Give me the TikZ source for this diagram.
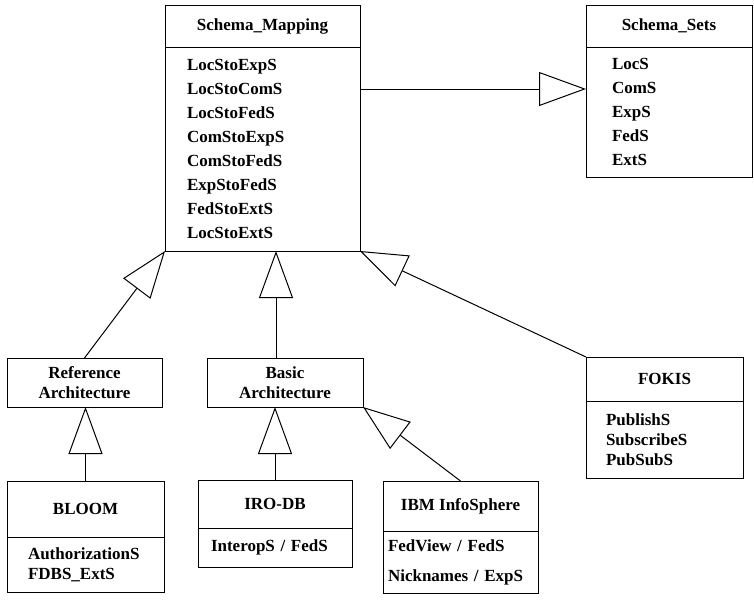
\documentclass[tikz,border=0pt]{standalone}
\usepackage{fontspec}
\setmainfont{Liberation Serif}
\usetikzlibrary{arrows.meta,positioning}
\begin{document}
\begin{tikzpicture}[x=1pt,y=-1pt,line width=1pt,
  every node/.style={font=\fontsize{17}{24}\selectfont\bfseries,outer sep=0pt},
  hd/.style={draw,anchor=north west,inner sep=0pt,align=center},
  bd/.style={draw,below=0pt of #1,align=left},
  gen/.style={-{Triangle[open,length=47pt,width=34pt]}}]
\useasboundingbox (0,0) rectangle (754,603);
% classes
\node[hd,minimum width=195pt,minimum height=42pt] (sm) at (165,5) {Schema\_Mapping};
\node[bd=sm,minimum height=204pt,text width=151pt,inner xsep=22pt] (smb) {LocStoExpS\\LocStoComS\\LocStoFedS\\ComStoExpS\\ComStoFedS\\ExpStoFedS\\FedStoExtS\\LocStoExtS};
\node[hd,minimum width=166pt,minimum height=42pt] (ss) at (586,5) {Schema\_Sets};
\node[bd=ss,minimum height=130pt,text width=114pt,inner xsep=26pt] (ssb) {LocS\\ComS\\ExpS\\FedS\\ExtS};
\node[hd,minimum width=155pt,minimum height=49pt,font=\fontsize{17}{20}\selectfont\bfseries] (ra) at (7,358) {Reference\\Architecture};
\node[hd,minimum width=156pt,minimum height=49pt,font=\fontsize{17}{20}\selectfont\bfseries] (ba) at (207,358) {Basic\\Architecture};
\node[hd,minimum width=157pt,minimum height=44pt] (fk) at (586,357) {FOKIS};
\node[bd=fk,minimum height=77pt,text width=117pt,inner xsep=20pt,font=\fontsize{17}{20}\selectfont\bfseries] (fkb) {PublishS\\SubscribeS\\PubSubS};
\node[hd,minimum width=157pt,minimum height=56pt] (bl) at (7,481) {BLOOM};
\node[bd=bl,minimum height=55pt,text width=115pt,inner xsep=21pt,font=\fontsize{17}{20}\selectfont\bfseries] (blb) {AuthorizationS\\FDBS\_ExtS};
\node[hd,minimum width=154pt,minimum height=48pt] (iro) at (198,480) {IRO-DB};
\node[bd=iro,minimum height=39pt,text width=128pt,inner xsep=13pt] (irob) {InteropS / FedS};
\node[hd,minimum width=155pt,minimum height=50pt] (ibm) at (383,481) {IBM InfoSphere};
\node[bd=ibm,minimum height=62pt,text width=145pt,inner xsep=5pt,font=\fontsize{17}{30}\selectfont\bfseries] (ibmb) {FedView / FedS\\Nicknames / ExpS};
% generalisations
\draw[gen] ([yshift=-42pt]smb.north east) -- ([yshift=-42pt]ssb.north west);
\draw[gen] (ra.north) -- (smb.south west);
\draw[gen] ([xshift=-9pt]ba.north) -- ([xshift=-9pt]ba.north |- smb.south);
\draw[gen] (fk.north west) -- (smb.south east);
\draw[gen] (bl.north) -- (bl.north |- ra.south);
\draw[gen] (iro.north) -- (iro.north |- ba.south);
\draw[gen] (ibm.north) -- (ba.south east);
\end{tikzpicture}
\end{document}
